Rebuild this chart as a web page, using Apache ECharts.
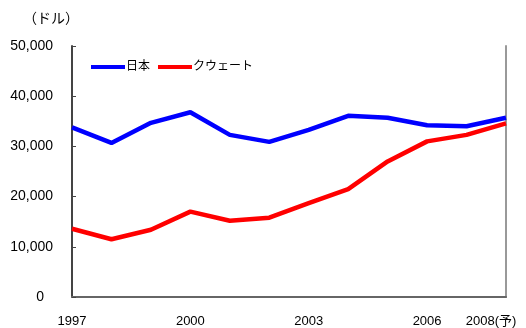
<!DOCTYPE html>
<html>
<head>
<meta charset="utf-8">
<script src="https://cdn.jsdelivr.net/npm/echarts@6/dist/echarts.min.js"></script>
<style>
  body { margin: 0; background: #fff; }
  #chart { width: 526px; height: 328px; }
</style>
</head>
<body>
<div id="chart"></div>
<script>
// 年次（2008年は予測）
const years = ["1997", "1998", "1999", "2000", "2001", "2002", "2003", "2004", "2005", "2006", "2007", "2008(予)"];
const shownYears = ["1997", "2000", "2003", "2006", "2008(予)"];
// 1人当たりGDP（ドル）
const japan = [33800, 30700, 34700, 36800, 32300, 30900, 33300, 36100, 35700, 34200, 34000, 35700];
const kuwait = [13600, 11500, 13400, 17000, 15200, 15800, 18700, 21500, 27000, 31000, 32300, 34600];

const font = "'Liberation Sans', 'Noto Sans CJK JP', sans-serif";

const chart = echarts.init(document.getElementById("chart"));
chart.setOption({
  animation: false,
  textStyle: { fontFamily: font },
  title: {
    text: "（ドル）",
    left: 18,
    top: 7,
    textStyle: { fontSize: 14, fontWeight: "normal", color: "#000", fontFamily: font },
  },
  legend: {
    left: 86,
    top: 56,
    itemWidth: 34,
    itemHeight: 4,
    itemGap: 8,
    icon: "rect",
    textStyle: { fontSize: 12, color: "#000", padding: [0, 0, 0, -4] },
    data: ["日本", "クウェート"],
  },
  grid: { left: 72, right: 20, top: 46, bottom: 29 },
  xAxis: {
    type: "category",
    boundaryGap: false,
    data: years,
    axisLine: { lineStyle: { color: "#666", width: 2 } },
    axisTick: { show: false },
    axisLabel: {
      interval: (i, v) => shownYears.includes(v),
      margin: 18,
      fontSize: 13,
      color: "#000",
      formatter: (v) => (v === "2008(予)" ? "{p|" + v + "}" : v),
      rich: { p: { fontSize: 13, color: "#000", padding: [0, 30, 0, 0] } },
    },
  },
  yAxis: [
    {
      type: "value",
      min: 0,
      max: 50000,
      interval: 10000,
      splitLine: { show: false },
      axisLine: { show: true, lineStyle: { color: "#444", width: 2 } },
      axisTick: { show: true, inside: true, length: 4, lineStyle: { color: "#444" } },
      axisLabel: {
        margin: 19,
        fontSize: 14,
        color: "#000",
        formatter: (v) => (v === 0 ? "{z|0}" : v.toLocaleString("en-US")),
        rich: { z: { fontSize: 14, color: "#000", padding: [0, 9, 0, 0] } },
      },
    },
    {
      type: "value",
      position: "right",
      min: 0,
      max: 50000,
      splitLine: { show: false },
      axisLine: { show: true, lineStyle: { color: "#999", width: 2 } },
      axisTick: { show: false },
      axisLabel: { show: false },
    },
  ],
  series: [
    {
      name: "日本",
      type: "line",
      data: japan,
      symbol: "none",
      color: "#0000ff",
      lineStyle: { width: 4.5 },
    },
    {
      name: "クウェート",
      type: "line",
      data: kuwait,
      symbol: "none",
      color: "#ff0000",
      lineStyle: { width: 4.5 },
    },
  ],
});
</script>
</body>
</html>
